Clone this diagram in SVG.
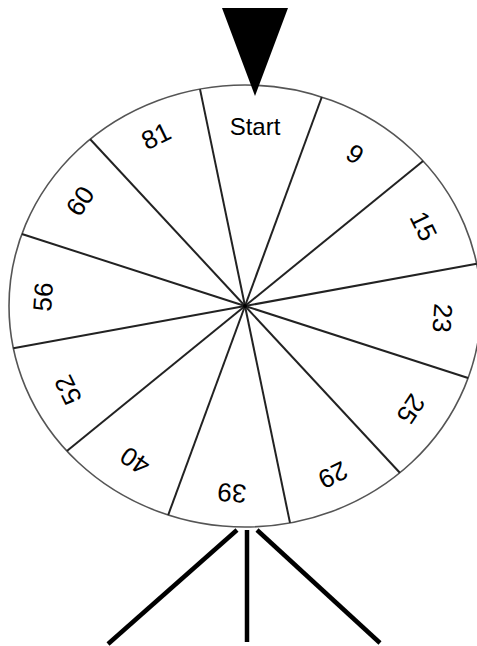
<svg xmlns="http://www.w3.org/2000/svg" width="477" height="646" viewBox="0 0 477 646">
<style>
.rim{fill:#ffffff;stroke:#555555;stroke-width:1.6}
.spoke{stroke:#222222;stroke-width:2;fill:none}
.leg{stroke:#000000;stroke-width:4.5;fill:none}
.lbl{font-family:"Liberation Sans",Arial,sans-serif;font-size:26px;fill:#000000;text-anchor:middle;dominant-baseline:central}
.start{font-size:24px}
</style>
<rect x="0" y="0" width="477" height="646" fill="#ffffff"/>
<g id="stand">
<line class="leg" x1="237" y1="530" x2="108" y2="644"/>
<line class="leg" x1="247" y1="530" x2="247" y2="642"/>
<line class="leg" x1="257" y1="530" x2="380" y2="643"/>
</g>
<g id="wheel">
<ellipse class="rim" cx="245" cy="306" rx="236" ry="221"/>
</g>
<g id="connectors">
<line class="spoke" x1="245" y1="306" x2="200.0" y2="89.1"/>
<line class="spoke" x1="245" y1="306" x2="321.8" y2="97.0"/>
<line class="spoke" x1="245" y1="306" x2="423.1" y2="161.0"/>
<line class="spoke" x1="245" y1="306" x2="476.7" y2="263.8"/>
<line class="spoke" x1="245" y1="306" x2="468.1" y2="378.0"/>
<line class="spoke" x1="245" y1="306" x2="399.8" y2="472.8"/>
<line class="spoke" x1="245" y1="306" x2="290.0" y2="522.9"/>
<line class="spoke" x1="245" y1="306" x2="168.2" y2="515.0"/>
<line class="spoke" x1="245" y1="306" x2="66.9" y2="451.0"/>
<line class="spoke" x1="245" y1="306" x2="13.3" y2="348.2"/>
<line class="spoke" x1="245" y1="306" x2="21.9" y2="234.0"/>
<line class="spoke" x1="245" y1="306" x2="90.2" y2="139.2"/>
<circle cx="245" cy="306" r="2" fill="#000000"/>
</g>
<g id="label-start"><text class="lbl start" x="255" y="126">Start</text></g>
<g id="label-9"><text class="lbl" transform="translate(355,154) rotate(34)">9</text></g>
<g id="label-15"><text class="lbl" transform="translate(423.5,226) rotate(64)">15</text></g>
<g id="label-23"><text class="lbl" transform="translate(442.5,318) rotate(94)">23</text></g>
<g id="label-25"><text class="lbl" transform="translate(411,409) rotate(124)">25</text></g>
<g id="label-29"><text class="lbl" transform="translate(333,475) rotate(154)">29</text></g>
<g id="label-39"><text class="lbl" transform="translate(232,493) rotate(184)">39</text></g>
<g id="label-40"><text class="lbl" transform="translate(135,461) rotate(214)">40</text></g>
<g id="label-52"><text class="lbl" transform="translate(68,390) rotate(244)">52</text></g>
<g id="label-56"><text class="lbl" transform="translate(43,297) rotate(274)">56</text></g>
<g id="label-60"><text class="lbl" transform="translate(80,201) rotate(304)">60</text></g>
<g id="label-81"><text class="lbl" transform="translate(156,136) rotate(334)">81</text></g>
<g id="pointer">
<polygon points="222,8 288,8 255,96" fill="#000000"/>
</g>
</svg>
